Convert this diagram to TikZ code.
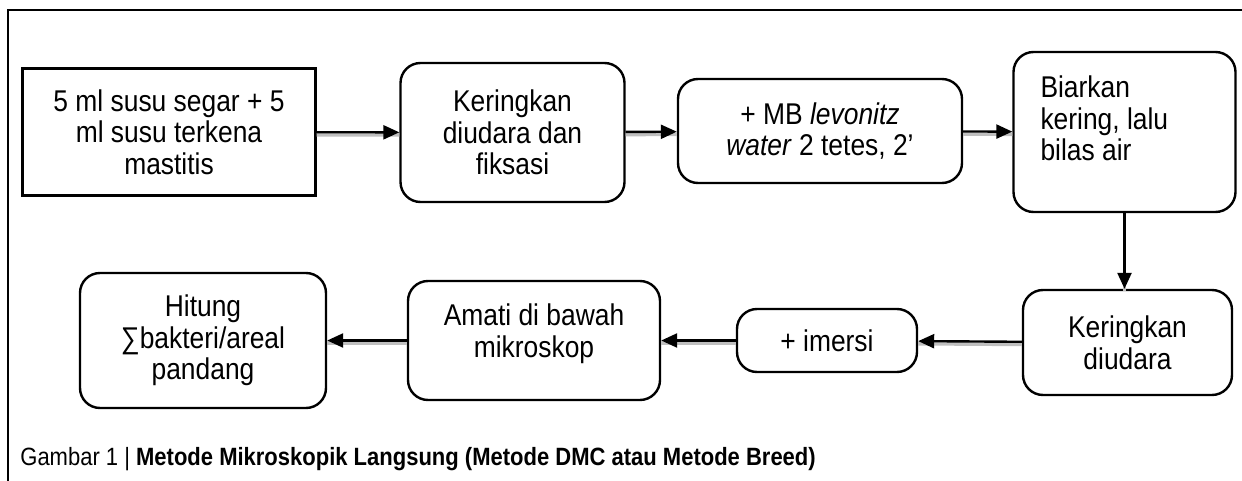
\documentclass[tikz,border=0pt]{standalone}
\usepackage{fontspec}
\setmainfont{Liberation Sans}[FakeStretch=0.88]
\usetikzlibrary{arrows.meta}

\begin{document}
\begin{tikzpicture}[x=0.5pt, y=-0.5pt,
    main/.style = {draw, rounded corners=10pt, line width=1.2pt, align=center, inner sep=2pt,
                   font=\fontsize{15}{15.8}\selectfont},
    flow/.style = {line width=1.2pt, -{Triangle[length=8pt, width=7pt]},
                   preaction={draw=black!25, line width=1.8pt, -, transform canvas={yshift=-1.3pt}}}]
    \useasboundingbox (0,0) rectangle (1242,481);
    % frame
    \draw[line width=1.1pt] (8,481) -- (8,10) -- (1242,10);
    % top row
    \node[main, sharp corners, minimum width=146.5pt, minimum height=63.5pt] (1) at (169,132) {5 ml susu segar + 5\\ ml susu terkena\\ mastitis};
    \node[main, minimum width=112pt, minimum height=69.5pt] (2) at (512.5,132.5) {Keringkan\\ diudara dan\\ fiksasi};
    \node[main, minimum width=142pt, minimum height=52pt] (3) at (820,131) {+ MB \textit{levonitz}\\ \textit{water} 2 tetes, 2’};
    \node[main, minimum width=111pt, minimum height=80pt] (4) at (1124.5,132) {\parbox[c][56pt][t]{84pt}{\raggedright Biarkan\\ kering, lalu\\ bilas air}};
    % bottom row
    \node[main, minimum width=104.5pt, minimum height=52.5pt] (5) at (1127.5,342.5) {Keringkan\\ diudara};
    \node[main, minimum width=90pt, minimum height=31.5pt] (6) at (827,340.5) {+ imersi};
    \node[main, minimum width=126pt, minimum height=59.5pt] (7) at (534,340.5) {\parbox[c][36.5pt][t]{120pt}{\centering Amati di bawah\\ mikroskop}};
    \node[main, minimum width=123pt, minimum height=67.5pt] (8) at (203,340.5) {Hitung\\ ∑bakteri/areal\\ pandang};
    % caption
    \node[anchor=base west, inner sep=0pt, font=\fontsize{12.5}{14}\selectfont] (cap) at (20,465) {Gambar 1 | \textbf{Metode Mikroskopik Langsung (Metode DMC atau Metode Breed)}};
    % connectors
    \draw[flow] (1) -- (2);
    \draw[flow] (2) -- (3);
    \draw[flow] (3) -- (4);
    \draw[flow] (4) -- (4 |- 5.north);
    \draw[flow] (5) -- (6);
    \draw[flow] (6) -- (7);
    \draw[flow] (7) -- (8);
\end{tikzpicture}
\end{document}
